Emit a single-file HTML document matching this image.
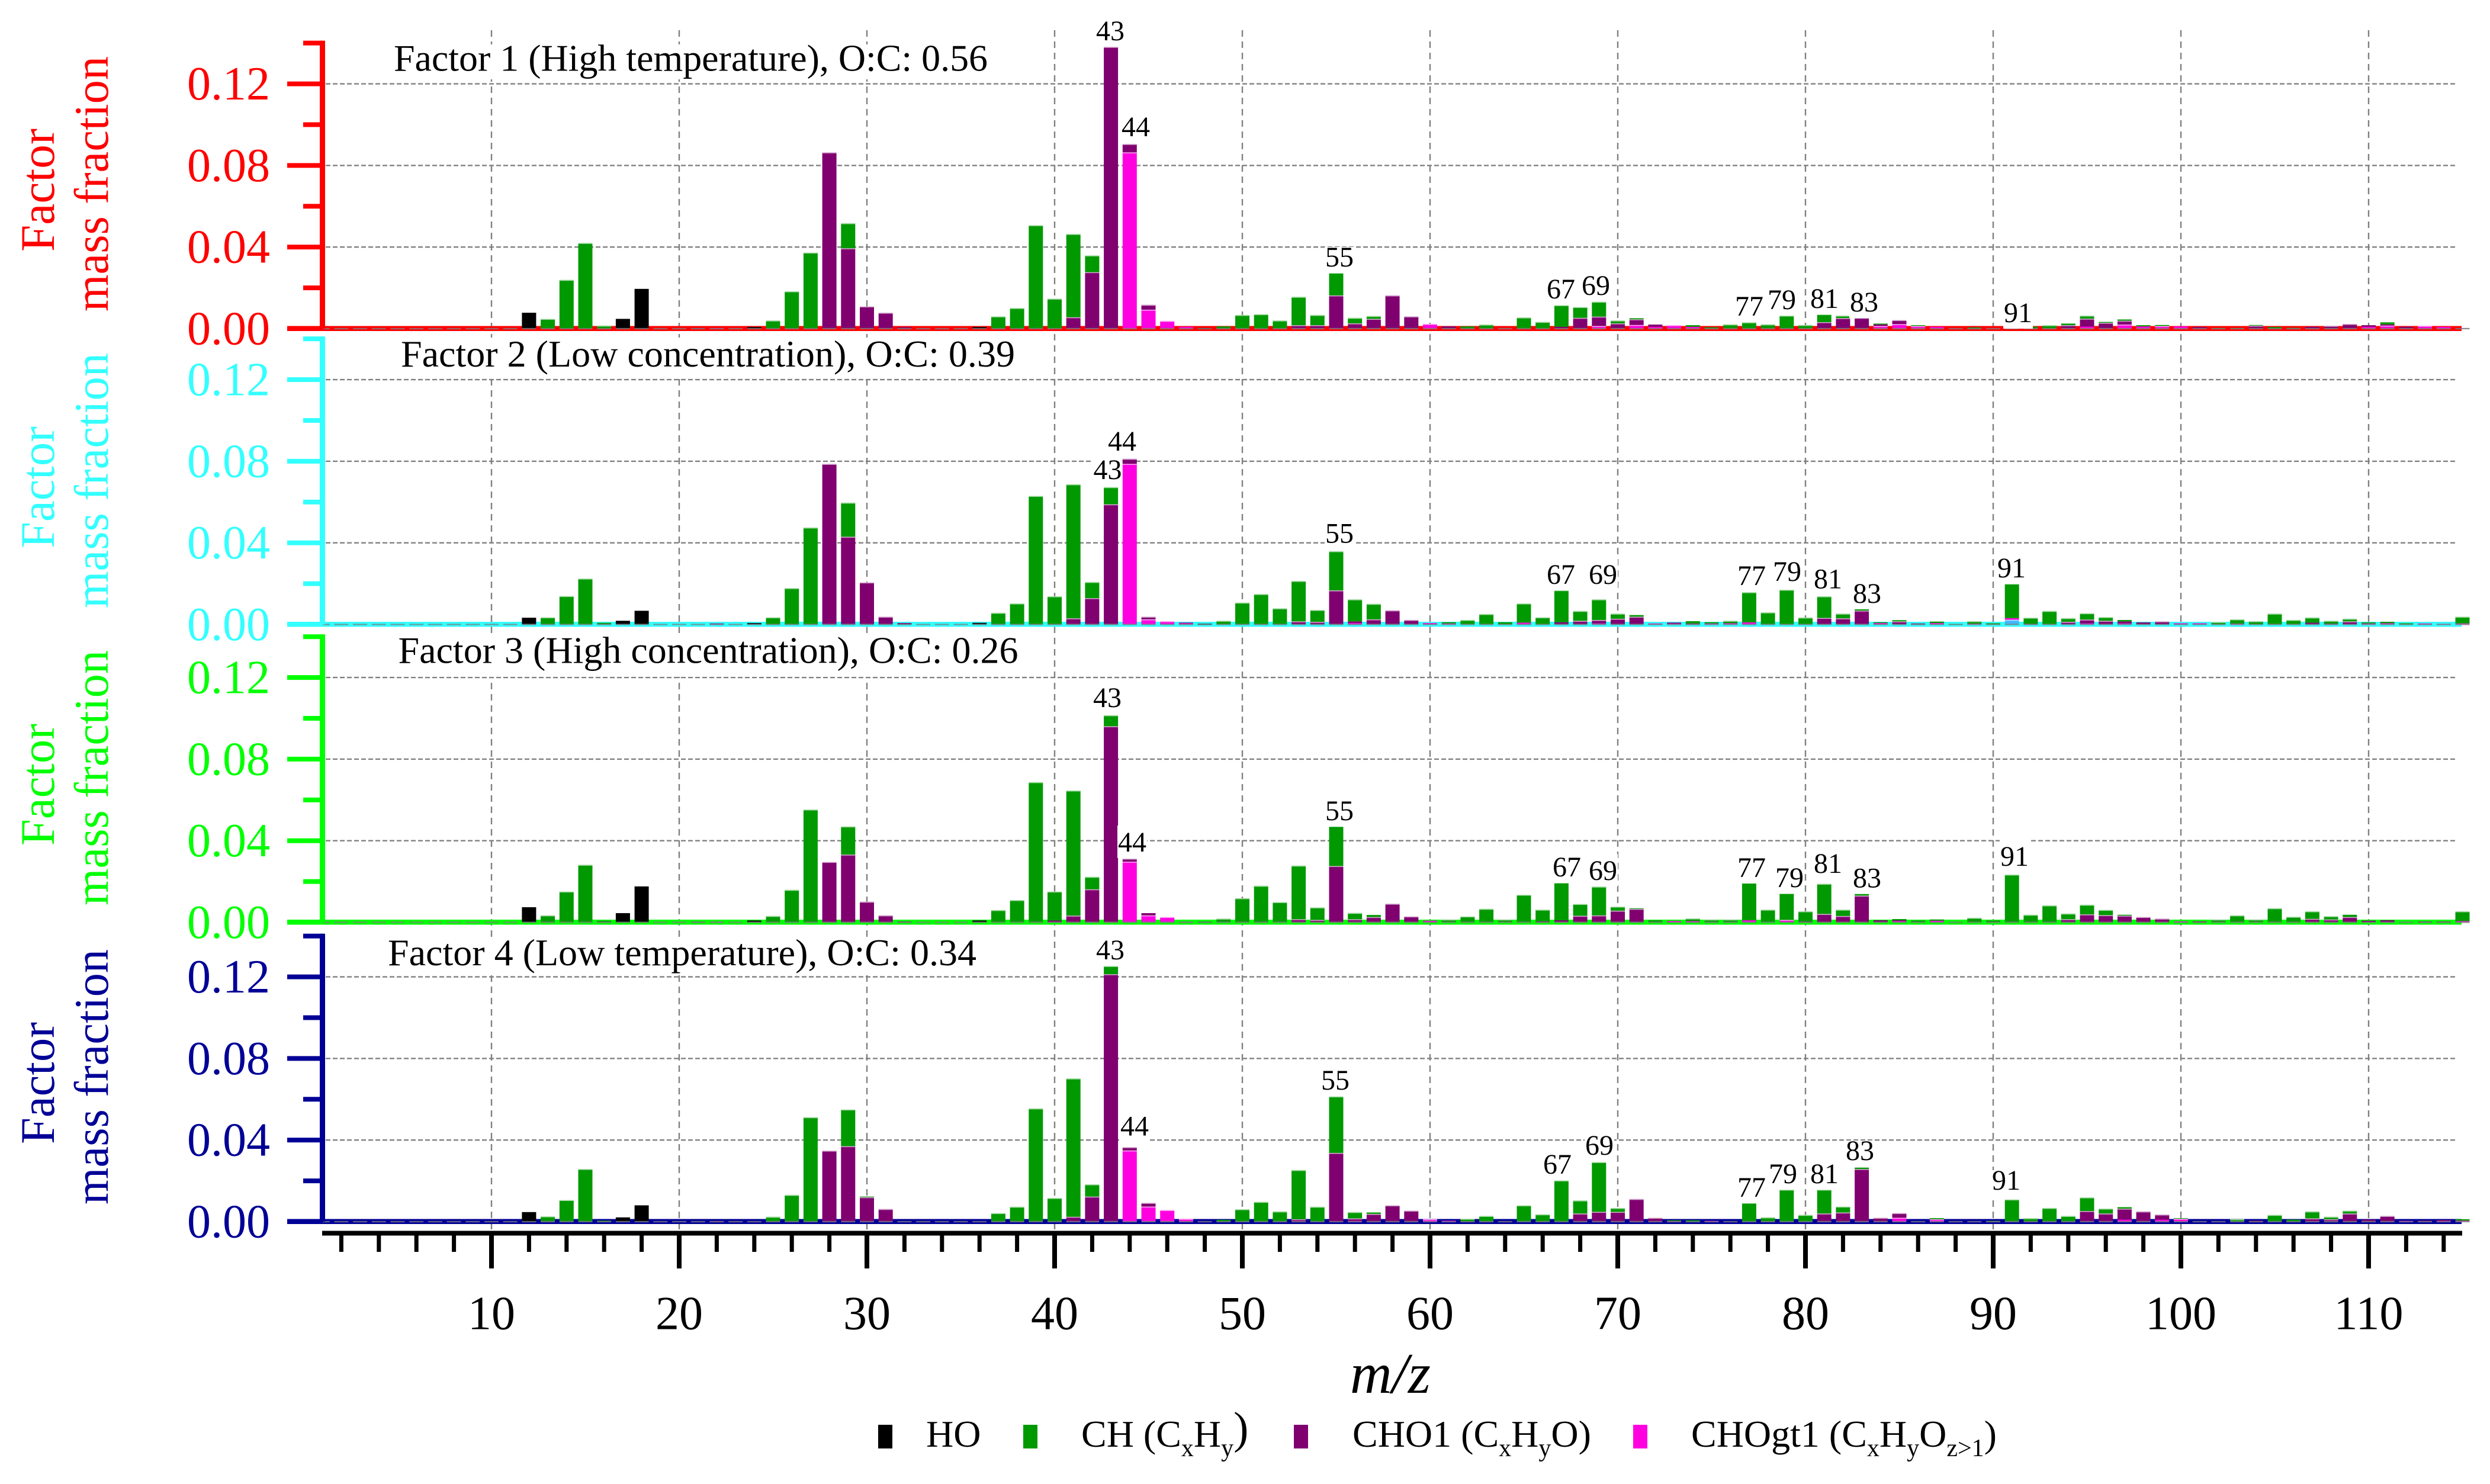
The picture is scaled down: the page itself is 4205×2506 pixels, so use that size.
<!DOCTYPE html>
<html lang="en">
<head>
<meta charset="utf-8">
<title>Factor mass spectra</title>
<style>
html,body{margin:0;padding:0;background:#fff;}
svg{display:block;}
text{font-family:"Liberation Serif",serif;}
.peak-box{fill:#fff;}
.peak-text{font-size:48px;text-anchor:middle;fill:#000;}
.title-text{font-size:64px;fill:#000;}
.ytitle{font-size:82px;}
.legend-text{font-size:64px;fill:#000;}
.sub{font-size:42px;}
</style>
</head>
<body>
<svg id="chart" xmlns="http://www.w3.org/2000/svg" width="4205" height="2506" viewBox="0 0 4205 2506">
<rect x="0" y="0" width="4205" height="2506" fill="#fff"/>
<g id="grid"></g>
<g id="titles">
<g><rect class="peak-box" x="662" y="75" width="1010" height="59"/><text class="title-text" x="665" y="119.5" textLength="1003" lengthAdjust="spacingAndGlyphs">Factor 1 (High temperature), O:C: 0.56</text></g>
<g><rect class="peak-box" x="674" y="570" width="1044" height="64"/><text class="title-text" x="677" y="619" textLength="1037" lengthAdjust="spacingAndGlyphs">Factor 2 (Low concentration), O:C: 0.39</text></g>
<g><rect class="peak-box" x="670" y="1075" width="1054" height="68"/><text class="title-text" x="672.5" y="1119.7" textLength="1047" lengthAdjust="spacingAndGlyphs">Factor 3 (High concentration), O:C: 0.26</text></g>
<g><rect class="peak-box" x="652" y="1585" width="1001" height="61"/><text class="title-text" x="655" y="1630" textLength="994" lengthAdjust="spacingAndGlyphs">Factor 4 (Low temperature), O:C: 0.34</text></g>
</g>
<g id="bars"></g>
<g id="axes"></g>

<g>
<text class="ytitle" fill="#ff0000" transform="translate(91,425) rotate(-90)" textLength="208" lengthAdjust="spacingAndGlyphs">Factor</text>
<text class="ytitle" fill="#ff0000" transform="translate(182,526) rotate(-90)" textLength="431" lengthAdjust="spacingAndGlyphs">mass fraction</text>
<text class="ytitle" fill="#33ffff" transform="translate(91,926) rotate(-90)" textLength="206" lengthAdjust="spacingAndGlyphs">Factor</text>
<text class="ytitle" fill="#33ffff" transform="translate(182,1027) rotate(-90)" textLength="431" lengthAdjust="spacingAndGlyphs">mass fraction</text>
<text class="ytitle" fill="#00ff00" transform="translate(91,1428) rotate(-90)" textLength="206" lengthAdjust="spacingAndGlyphs">Factor</text>
<text class="ytitle" fill="#00ff00" transform="translate(182,1529) rotate(-90)" textLength="431" lengthAdjust="spacingAndGlyphs">mass fraction</text>
<text class="ytitle" fill="#000096" transform="translate(91,1932) rotate(-90)" textLength="206" lengthAdjust="spacingAndGlyphs">Factor</text>
<text class="ytitle" fill="#000096" transform="translate(182,2034) rotate(-90)" textLength="431" lengthAdjust="spacingAndGlyphs">mass fraction</text>
</g>

<g>
<g><rect class="peak-box" x="1850" y="35" width="50" height="44"/><text class="peak-text" x="1875" y="68">43</text></g>
<g><rect class="peak-box" x="1893" y="197" width="50" height="44"/><text class="peak-text" x="1918" y="230">44</text></g>
<g><rect class="peak-box" x="2237" y="417" width="50" height="44"/><text class="peak-text" x="2262" y="450">55</text></g>
<g><rect class="peak-box" x="2611" y="471" width="50" height="44"/><text class="peak-text" x="2636" y="504">67</text></g>
<g><rect class="peak-box" x="2670" y="465" width="50" height="44"/><text class="peak-text" x="2695" y="498">69</text></g>
<g><rect class="peak-box" x="2929" y="500" width="50" height="44"/><text class="peak-text" x="2954" y="533">77</text></g>
<g><rect class="peak-box" x="2984" y="489" width="50" height="44"/><text class="peak-text" x="3009" y="522">79</text></g>
<g><rect class="peak-box" x="3056" y="487" width="50" height="44"/><text class="peak-text" x="3081" y="520">81</text></g>
<g><rect class="peak-box" x="3123" y="493" width="50" height="44"/><text class="peak-text" x="3148" y="526">83</text></g>
<g><rect class="peak-box" x="3383" y="511" width="50" height="44"/><text class="peak-text" x="3408" y="544">91</text></g>
</g>
<g>
<g><rect class="peak-box" x="1870" y="717" width="50" height="55"/><text class="peak-text" x="1895" y="761">44</text></g>
<g><rect class="peak-box" x="1845.5" y="765" width="50" height="55"/><text class="peak-text" x="1870.5" y="809">43</text></g>
<g><rect class="peak-box" x="2237" y="872.5" width="50" height="55"/><text class="peak-text" x="2262" y="916.5">55</text></g>
<g><rect class="peak-box" x="2611" y="942" width="50" height="55"/><text class="peak-text" x="2636" y="986">67</text></g>
<g><rect class="peak-box" x="2682" y="942" width="50" height="55"/><text class="peak-text" x="2707" y="986">69</text></g>
<g><rect class="peak-box" x="2933" y="944" width="50" height="55"/><text class="peak-text" x="2958" y="988">77</text></g>
<g><rect class="peak-box" x="2993" y="937" width="50" height="55"/><text class="peak-text" x="3018" y="981">79</text></g>
<g><rect class="peak-box" x="3062" y="949.5" width="50" height="55"/><text class="peak-text" x="3087" y="993.5">81</text></g>
<g><rect class="peak-box" x="3128" y="974" width="50" height="55"/><text class="peak-text" x="3153" y="1018">83</text></g>
<g><rect class="peak-box" x="3372" y="931" width="50" height="55"/><text class="peak-text" x="3397" y="975">91</text></g>
</g>
<g>
<g><rect class="peak-box" x="1845" y="1150" width="50" height="55"/><text class="peak-text" x="1870" y="1194">43</text></g>
<g><rect class="peak-box" x="1887" y="1394" width="50" height="55"/><text class="peak-text" x="1912" y="1438">44</text></g>
<g><rect class="peak-box" x="2237" y="1341" width="50" height="55"/><text class="peak-text" x="2262" y="1385">55</text></g>
<g><rect class="peak-box" x="2621" y="1436" width="50" height="55"/><text class="peak-text" x="2646" y="1480">67</text></g>
<g><rect class="peak-box" x="2682" y="1442" width="50" height="55"/><text class="peak-text" x="2707" y="1486">69</text></g>
<g><rect class="peak-box" x="2933" y="1437" width="50" height="55"/><text class="peak-text" x="2958" y="1481">77</text></g>
<g><rect class="peak-box" x="2997" y="1454" width="50" height="55"/><text class="peak-text" x="3022" y="1498">79</text></g>
<g><rect class="peak-box" x="3062" y="1430" width="50" height="55"/><text class="peak-text" x="3087" y="1474">81</text></g>
<g><rect class="peak-box" x="3128" y="1454.5" width="50" height="55"/><text class="peak-text" x="3153" y="1498.5">83</text></g>
<g><rect class="peak-box" x="3377" y="1418" width="50" height="55"/><text class="peak-text" x="3402" y="1462">91</text></g>
</g>
<g>
<g><rect class="peak-box" x="1850" y="1587" width="50" height="44"/><text class="peak-text" x="1875" y="1620">43</text></g>
<g><rect class="peak-box" x="1891" y="1884.5" width="50" height="44"/><text class="peak-text" x="1916" y="1917.5">44</text></g>
<g><rect class="peak-box" x="2230" y="1807" width="50" height="44"/><text class="peak-text" x="2255" y="1840">55</text></g>
<g><rect class="peak-box" x="2605" y="1949" width="50" height="44"/><text class="peak-text" x="2630" y="1982">67</text></g>
<g><rect class="peak-box" x="2676" y="1917" width="50" height="44"/><text class="peak-text" x="2701" y="1950">69</text></g>
<g><rect class="peak-box" x="2933" y="1988" width="50" height="44"/><text class="peak-text" x="2958" y="2021">77</text></g>
<g><rect class="peak-box" x="2986" y="1965" width="50" height="44"/><text class="peak-text" x="3011" y="1998">79</text></g>
<g><rect class="peak-box" x="3056" y="1965" width="50" height="44"/><text class="peak-text" x="3081" y="1998">81</text></g>
<g><rect class="peak-box" x="3116" y="1926" width="50" height="44"/><text class="peak-text" x="3141" y="1959">83</text></g>
<g><rect class="peak-box" x="3363" y="1976" width="50" height="44"/><text class="peak-text" x="3388" y="2009">91</text></g>
</g>

<text x="2348" y="2352" text-anchor="middle" font-size="98" font-style="italic" fill="#000">m/z</text>

<g>
<g>
<rect x="1483" y="2406" width="24" height="40" fill="#000"/>
<text class="legend-text" x="1564" y="2443">HO</text>
</g>
<g>
<rect x="1728" y="2406" width="24" height="40" fill="#009900"/>
<text class="legend-text" x="1826" y="2443">CH (C<tspan class="sub" dy="16">x</tspan><tspan dy="-16">H</tspan><tspan class="sub" dy="16">y</tspan><tspan dy="-22" font-size="76">)</tspan></text>
</g>
<g>
<rect x="2185" y="2406" width="24" height="40" fill="#800070"/>
<text class="legend-text" x="2284" y="2443">CHO1 (C<tspan class="sub" dy="16">x</tspan><tspan dy="-16">H</tspan><tspan class="sub" dy="16">y</tspan><tspan dy="-16">O)</tspan></text>
</g>
<g>
<rect x="2758" y="2406" width="24" height="40" fill="#ff00e0"/>
<text class="legend-text" x="2856" y="2443">CHOgt1 (C<tspan class="sub" dy="16">x</tspan><tspan dy="-16">H</tspan><tspan class="sub" dy="16">y</tspan><tspan dy="-16">O</tspan><tspan class="sub" dy="16">z&gt;1</tspan><tspan dy="-16">)</tspan></text>
</g>
</g>
</svg>

<script>
// Values below are in units of 1e-4 factor mass fraction, one entry per m/z 1..115.
const valueUnit = 0.0001;
const mzCategories = Array.from({length:115}, (_, i) => i + 1);
const xMajorTicks = [10,20,30,40,50,60,70,80,90,100,110];
const xMinorTicks = [2,4,6,8,12,14,16,18,22,24,26,28,32,34,36,38,42,44,46,48,52,54,56,58,62,64,66,68,72,74,76,78,82,84,86,88,92,94,96,98,102,104,106,108,112,114];
const yMajorTicks = [0,0.04,0.08,0.12];
const yMinorTicks = [0.02,0.06,0.10,0.14];
const yTickLabels = ['0.00','0.04','0.08','0.12'];

const f1HO = [
0,0,0,0,0,0,0,0,0,0,
0,78,0,0,0,0,48,195,0,0,
0,0,0,8,0,0,0,0,0,0,
0,0,0,0,0,8,0,0,0,0,
0,0,0,0,0,0,0,3,0,0,
0,0,0,0,0,0,0,0,0,0,
0,0,0,0,0,0,0,0,0,0,
0,0,0,0,0,0,0,0,0,0,
0,0,0,0,0,0,0,0,0,0,
0,0,0,0,0,0,0,0,0,0,
0,0,0,0,0,0,0,0,0,0,
0,0,0,0,0];
const f1CH = [
0,0,0,0,0,0,0,0,0,0,
0,0,48,239,420,15,0,0,0,0,
0,0,0,0,40,183,373,0,123,0,
0,0,0,0,0,0,60,101,507,147,
408,82,0,0,0,0,0,0,11,67,
71,40,139,50,111,27,14,0,0,0,
0,11,20,0,55,33,106,53,73,14,
5,0,0,8,7,21,31,21,64,18,
39,12,0,4,0,4,0,0,6,0,
35,10,17,8,15,4,6,6,5,0,
0,3,3,3,8,4,0,0,0,0,
10,0,0,0,0];
const f1CHO1 = [
0,0,0,0,0,0,0,0,0,0,
0,0,0,0,0,0,0,0,0,0,
3,0,0,0,0,0,0,864,394,109,
78,7,0,0,0,0,0,0,0,0,
56,277,1381,41,24,0,0,0,0,0,
0,0,17,17,163,26,48,163,60,0,
11,0,0,0,0,0,9,53,46,26,
28,11,0,0,0,0,0,0,0,0,
32,52,53,8,20,0,0,0,0,0,
0,0,0,17,39,29,19,0,0,0,
8,0,0,15,0,0,9,14,23,8,
6,9,0,0,2];
const f1CHOgt1 = [
0,0,0,0,0,0,0,0,0,0,
0,0,0,0,0,0,0,0,0,0,
0,3,0,0,0,0,0,0,0,0,
0,0,0,0,0,0,0,0,0,0,
0,0,0,864,93,38,9,0,0,0,
0,0,0,0,0,0,0,0,0,23,
0,0,0,0,0,0,0,0,13,0,
18,9,17,9,0,0,0,0,0,0,
0,0,0,13,22,13,9,0,0,0,
0,0,0,0,10,0,20,11,13,11,
0,0,0,0,0,0,0,0,0,9,
15,0,14,9,0];

const f2HO = [
0,0,0,0,0,0,0,0,0,0,
0,33,0,0,0,0,18,67,0,0,
0,0,0,7,0,0,0,0,0,0,
0,0,0,0,0,8,0,0,0,0,
0,0,0,0,0,0,0,4,0,0,
0,0,0,0,0,0,0,0,0,0,
0,0,0,0,0,0,0,0,0,0,
0,0,0,0,0,0,0,0,0,0,
0,0,0,0,0,0,0,0,0,0,
0,0,0,0,0,0,0,0,0,0,
0,0,0,0,0,0,0,0,0,0,
0,0,0,0,0];
const f2CH = [
0,0,0,0,0,0,0,0,0,0,
0,0,35,139,225,8,0,0,0,0,
0,0,0,0,35,178,475,0,167,0,
0,0,0,0,0,0,57,103,630,138,
657,79,84,0,0,0,0,0,18,107,
149,79,198,58,192,108,76,0,0,0,
6,22,51,11,94,35,157,48,101,25,
8,0,0,11,6,12,148,59,170,34,
106,23,9,4,6,0,7,2,12,6,
169,30,66,18,31,18,7,0,0,0,
0,12,21,16,53,22,25,14,13,5,
7,6,0,0,33];
const f2CHO1 = [
0,0,0,0,0,0,0,0,0,0,
0,0,0,0,0,0,0,0,0,0,
0,3,0,0,0,0,0,787,430,206,
38,7,0,0,0,0,0,0,0,0,
30,129,589,25,13,0,3,0,0,0,
0,0,15,13,167,8,25,69,22,0,
0,0,0,0,0,0,11,18,17,28,
38,0,5,5,0,0,0,0,0,0,
32,30,68,0,15,5,0,0,0,0,
0,3,0,13,19,18,10,10,15,0,
0,0,0,0,0,0,9,4,15,0,
0,0,0,0,0];
const f2CHOgt1 = [
0,0,0,0,0,0,0,0,0,0,
0,0,0,0,0,0,0,0,0,0,
0,2,0,0,0,0,0,0,0,0,
0,0,0,0,0,0,0,0,0,0,
0,0,0,787,25,16,6,0,0,0,
0,0,0,0,0,7,0,0,0,7,
5,0,0,0,9,0,0,0,5,0,
0,5,4,0,5,6,10,0,0,0,
0,0,0,7,0,0,7,0,4,0,
8,0,0,0,5,0,5,0,0,6,
6,0,4,0,0,0,0,0,0,5,
6,0,5,3,5];
const f2UnattributedMz = [91];
const f2UnattributedValues = [23];

const f3HO = [
0,0,0,0,0,0,0,0,0,0,
0,74,0,0,0,0,45,176,0,0,
0,0,0,9,0,0,0,0,0,0,
0,0,0,0,0,9,0,0,0,0,
0,0,0,0,0,0,0,3,0,0,
0,0,0,0,0,0,0,0,0,0,
0,0,0,0,0,0,0,0,0,0,
0,0,0,0,0,0,0,0,0,0,
0,0,0,0,0,0,0,0,0,0,
0,0,0,0,0,0,0,0,0,0,
0,0,0,0,0,0,0,0,0,0,
0,0,0,0,0];
const f3CH = [
0,0,0,0,0,0,0,0,0,0,
0,0,34,151,282,8,0,0,0,0,
0,0,0,0,31,159,553,0,138,0,
0,0,0,0,0,0,60,109,687,142,
613,61,54,0,0,0,0,0,18,118,
179,99,263,61,196,31,10,0,0,0,
14,29,66,14,135,57,185,58,141,20,
3,10,0,13,14,14,185,62,131,50,
148,31,12,0,6,9,6,2,22,9,
234,37,83,28,47,26,4,0,0,0,
0,14,34,14,69,27,37,16,11,0,
0,2,0,0,48];
const f3CHO1 = [
0,0,0,0,0,0,0,0,0,0,
0,0,0,0,0,0,0,0,0,0,
3,0,0,0,0,0,0,296,332,101,
34,4,0,0,0,0,0,0,0,9,
33,162,961,15,11,0,1,0,0,0,
0,0,15,12,276,15,26,91,29,0,
0,0,0,0,0,5,10,32,34,57,
66,0,0,0,0,0,0,0,0,4,
41,31,131,10,4,0,0,0,0,0,
0,0,0,15,39,35,33,26,18,0,
5,0,0,0,0,0,17,14,26,8,
10,0,4,4,0];
const f3CHOgt1 = [
0,0,0,0,0,0,0,0,0,0,
0,0,0,0,0,0,0,0,0,0,
0,3,0,0,0,0,0,0,0,0,
0,0,0,0,0,0,0,0,0,0,
0,0,0,297,34,26,2,0,0,0,
0,0,0,0,0,0,0,0,0,8,
0,0,0,0,0,0,0,0,0,0,
0,0,7,6,0,0,10,0,12,0,
0,0,0,0,6,0,8,0,0,0,
0,0,0,0,0,0,0,0,0,5,
0,0,0,0,0,0,0,0,0,0,
0,0,0,0,6];

const f4HO = [
0,0,0,0,0,0,0,0,0,0,
0,47,0,0,0,0,21,80,0,0,
0,0,0,0,0,0,0,0,0,0,
0,0,0,0,0,0,0,0,0,0,
0,0,0,0,0,0,0,0,0,0,
0,0,0,0,0,0,0,0,0,0,
0,0,0,0,0,0,0,0,0,0,
0,0,0,0,0,0,0,0,0,0,
0,0,0,0,0,0,0,0,0,0,
0,0,0,0,0,0,0,0,0,0,
0,0,0,0,0,0,0,0,0,0,
0,0,0,0,0];
const f4CH = [
0,0,0,0,0,0,0,0,0,0,
0,0,26,106,258,5,0,0,0,0,
0,0,0,0,24,131,512,0,180,3,
0,0,0,0,0,0,42,73,555,116,
678,60,40,0,0,0,0,0,9,61,
97,50,241,73,277,31,7,0,0,0,
0,14,28,0,80,36,202,64,244,19,
0,0,4,7,0,0,93,21,157,33,
117,29,7,0,0,0,5,0,0,4,
109,17,67,28,67,24,7,0,0,3,
0,0,12,0,33,10,34,12,14,0,
0,0,0,0,7];
const f4CHO1 = [
0,0,0,0,0,0,0,0,0,0,
0,0,0,0,0,0,0,0,0,0,
0,0,0,0,0,0,0,348,370,120,
62,0,0,0,0,0,0,0,0,0,
24,123,1213,16,18,0,0,0,0,0,
0,0,12,0,337,12,38,80,54,0,
0,0,0,0,0,0,0,40,48,48,
111,19,0,0,0,0,0,0,0,0,
40,45,258,19,23,0,0,0,0,0,
0,0,0,0,52,40,54,50,25,0,
0,0,0,5,0,0,16,12,40,10,
28,0,5,4,0];
const f4CHOgt1 = [
0,0,0,0,0,0,0,0,0,0,
0,0,0,0,0,0,0,0,0,0,
0,2,0,0,0,0,0,0,0,0,
0,0,0,0,0,0,0,0,0,0,
0,0,0,349,74,57,14,0,0,0,
0,0,0,0,0,4,0,0,0,12,
5,0,0,0,0,0,0,0,0,0,
0,0,3,0,4,0,0,0,0,0,
0,0,0,0,19,0,12,0,0,0,
0,0,0,0,0,0,10,0,10,14,
0,0,0,0,0,0,0,0,0,0,
0,4,0,4,5];

const NS = 'http://www.w3.org/2000/svg';
const gridLayer = document.getElementById('grid');
const barLayer = document.getElementById('bars');
const axisLayer = document.getElementById('axes');
const xScale = m => 830 + (m - 10) * 31.7;
const Y_PER_UNIT = 3445;
const BAR_W = 24;

function makeRect(parent, x, y, w, h, fill) {
  const r = document.createElementNS(NS, 'rect');
  r.setAttribute('x', x); r.setAttribute('y', y);
  r.setAttribute('width', w); r.setAttribute('height', h);
  r.setAttribute('fill', fill);
  parent.appendChild(r);
  return r;
}
function makeLine(parent, x1, y1, x2, y2, dash) {
  const l = document.createElementNS(NS, 'line');
  l.setAttribute('x1', x1); l.setAttribute('y1', y1);
  l.setAttribute('x2', x2); l.setAttribute('y2', y2);
  l.setAttribute('stroke', '#808080');
  l.setAttribute('stroke-width', '2.4');
  l.setAttribute('stroke-dasharray', dash);
  parent.appendChild(l);
  return l;
}
function makeText(parent, x, y, str, size, fill) {
  const t = document.createElementNS(NS, 'text');
  t.setAttribute('x', x); t.setAttribute('y', y);
  t.setAttribute('font-size', size);
  t.setAttribute('fill', fill);
  t.textContent = str;
  parent.appendChild(t);
  return t;
}

const seriesColors = {gt1:'#ff00e0', cho1:'#800070', ch:'#009900', ho:'#000000', other:'#40b8ff'};
const panels = [
  {id:'factor-1', base:555,    color:'#ff0000', ho:f1HO, ch:f1CH, cho1:f1CHO1, gt1:f1CHOgt1, otherMz:[], otherVals:[]},
  {id:'factor-2', base:1054.5, color:'#33ffff', ho:f2HO, ch:f2CH, cho1:f2CHO1, gt1:f2CHOgt1, otherMz:f2UnattributedMz, otherVals:f2UnattributedValues},
  {id:'factor-3', base:1557.5, color:'#00ff00', ho:f3HO, ch:f3CH, cho1:f3CHO1, gt1:f3CHOgt1, otherMz:[], otherVals:[]},
  {id:'factor-4', base:2063,   color:'#000096', ho:f4HO, ch:f4CH, cho1:f4CHO1, gt1:f4CHOgt1, otherMz:[], otherVals:[]}
];

xMajorTicks.forEach(m => {
  const v = makeLine(gridLayer, xScale(m), 51, xScale(m), 2083, '11 8');
  
  
});

panels.forEach(p => {
  const yScale = v => p.base - v * Y_PER_UNIT;

  yMajorTicks.slice(1).forEach(t => {
    const h = makeLine(gridLayer, 550, yScale(t), 4149, yScale(t), '8 4');
    
    
  });

  const band = makeRect(barLayer, 485, p.base - 4.5, 3672, 8.5, p.color);
  
  

  mzCategories.forEach((m, i) => {
    const x = xScale(m) - BAR_W / 2;
    const otherIdx = p.otherMz.indexOf(m);
    const stack = [
      ['other', otherIdx >= 0 ? p.otherVals[otherIdx] : 0],
      ['gt1', p.gt1[i]],
      ['cho1', p.cho1[i]],
      ['ch', p.ch[i]],
      ['ho', p.ho[i]]
    ];
    let cum = 0;
    stack.forEach(seg => {
      const key = seg[0], val = seg[1] * valueUnit;
      if (val <= 0) return;
      const yTop = yScale(cum + val);
      const yBot = yScale(cum);
      const bar = makeRect(barLayer, x, yTop, BAR_W, yBot - yTop, seriesColors[key]);
      
      
      if (yBot - yTop > 4 && key !== 'ho') {
        const edge = makeRect(barLayer, x, yTop, BAR_W, 1.6, '#ffffff');
        edge.setAttribute('fill-opacity', '0.65');
        
        
      }
      cum += val;
    });
    const zero = makeRect(barLayer, x, p.base - 1.2, BAR_W, 2.4, '#808080');
    zero.setAttribute('fill-opacity', '0.75');
    
    
  });

  const axis = makeRect(axisLayer, 540, yScale(0.14) - 4, 9, p.base - yScale(0.14) + 4, p.color);
  
  

  yMajorTicks.forEach((t, i) => {
    const tick = makeRect(axisLayer, 485, yScale(t) - 4, 60, 8, p.color);
    
    
    const lab = makeText(axisLayer, 456, yScale(t) + 26.5, yTickLabels[i], 80, p.color);
    lab.setAttribute('text-anchor', 'end');
    
    
  });
  yMinorTicks.forEach(t => {
    const tick = makeRect(axisLayer, 512, yScale(t) - 4, 33, 8, p.color);
    
    
  });
});

const xAxisLine = makeRect(axisLayer, 544, 2078.5, 3614, 8, '#000');



xMinorTicks.forEach(m => {
  const tick = makeRect(axisLayer, xScale(m) - 3.5, 2082, 7, 32, '#000');
  
  
});
xMajorTicks.forEach(m => {
  const tick = makeRect(axisLayer, xScale(m) - 4, 2082, 8, 60, '#000');
  
  
  const lab = makeText(axisLayer, xScale(m), 2244.5, String(m), 80, '#000');
  lab.setAttribute('text-anchor', 'middle');
  
  
});
</script>
</body>
</html>
